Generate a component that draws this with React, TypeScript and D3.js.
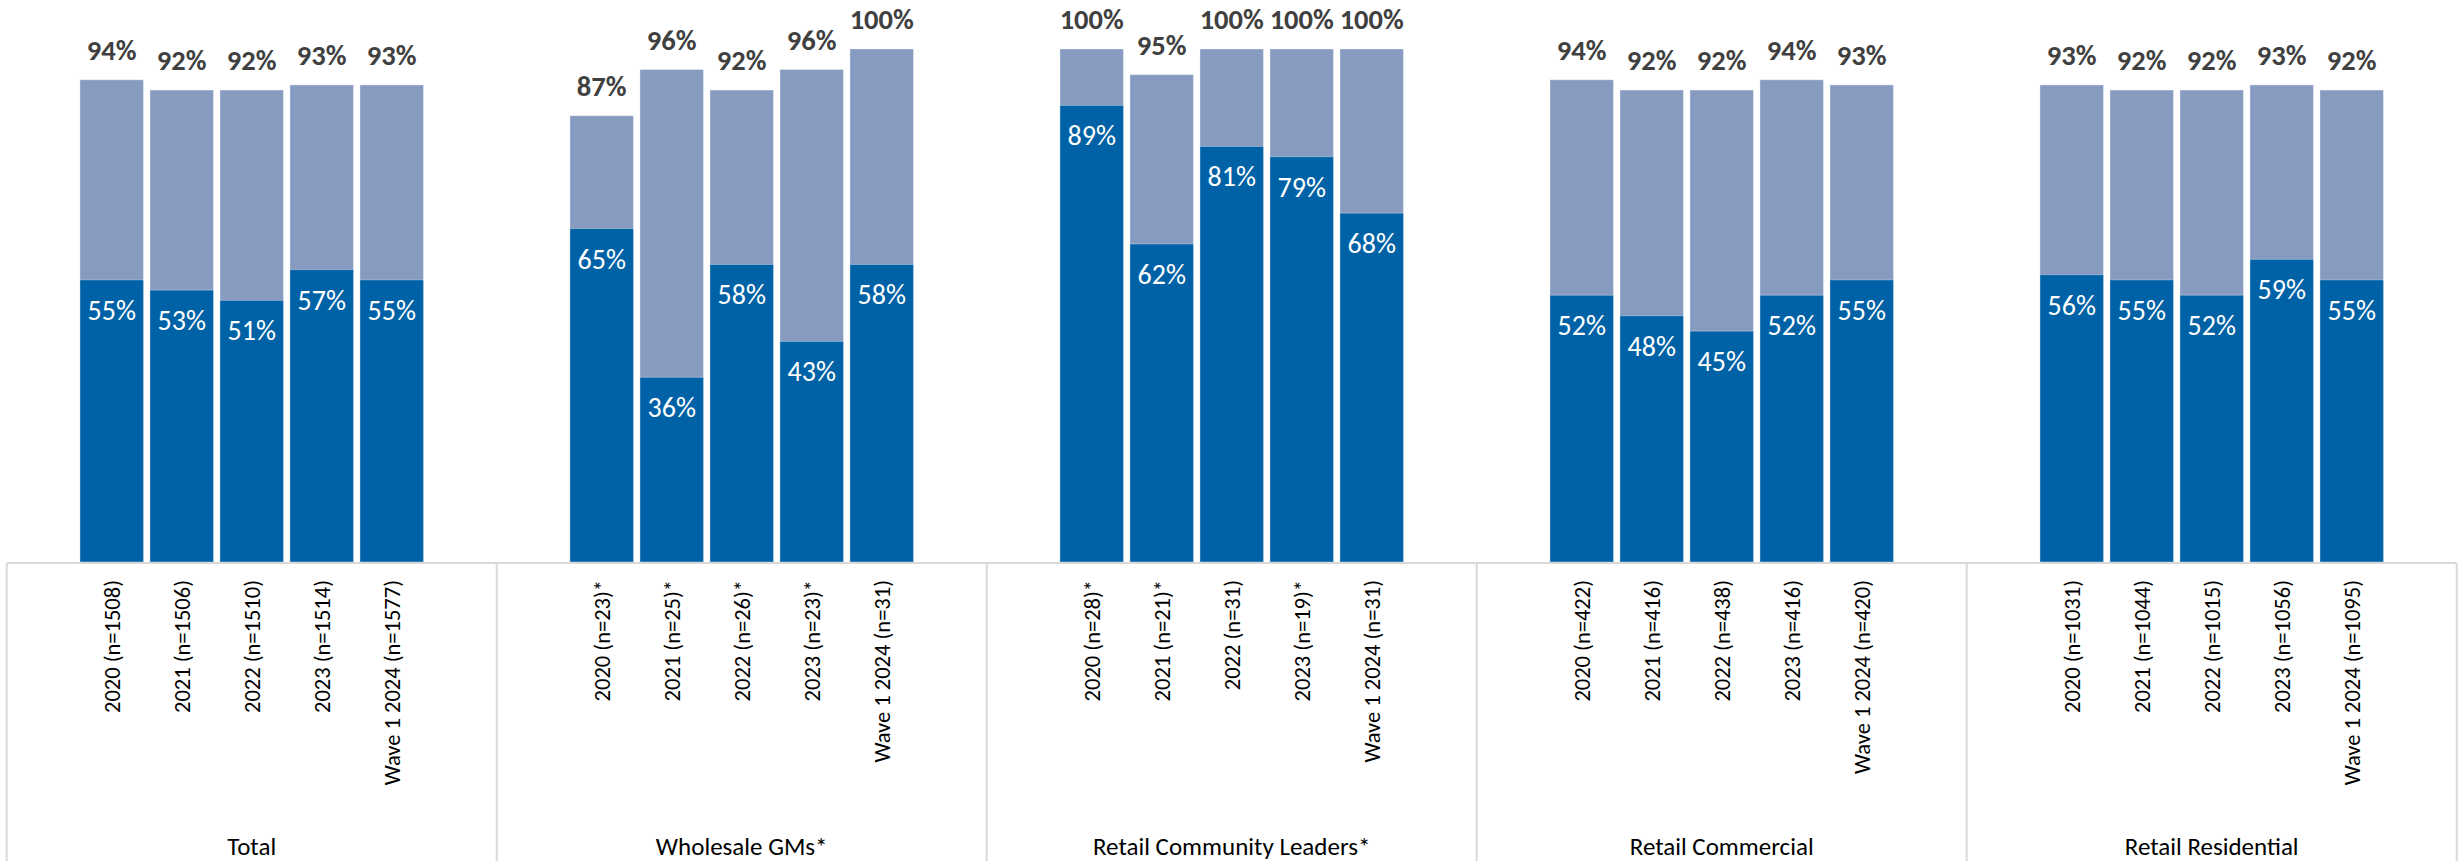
import React, { useEffect } from "react";
import * as d3 from "d3";

const groups = ["Total", "Wholesale GMs*", "Retail Community Leaders*", "Retail Commercial", "Retail Residential"];

const tickLabels: string[][] = [
  ["2020 (n=1508)", "2021 (n=1506)", "2022 (n=1510)", "2023 (n=1514)", "Wave 1 2024 (n=1577)"],
  ["2020 (n=23)*", "2021 (n=25)*", "2022 (n=26)*", "2023 (n=23)*", "Wave 1 2024 (n=31)"],
  ["2020 (n=28)*", "2021 (n=21)*", "2022 (n=31)", "2023 (n=19)*", "Wave 1 2024 (n=31)"],
  ["2020 (n=422)", "2021 (n=416)", "2022 (n=438)", "2023 (n=416)", "Wave 1 2024 (n=420)"],
  ["2020 (n=1031)", "2021 (n=1044)", "2022 (n=1015)", "2023 (n=1056)", "Wave 1 2024 (n=1095)"],
];

// Top-2 box total (light bar height)
const totalValues: number[][] = [
  [94, 92, 92, 93, 93],
  [87, 96, 92, 96, 100],
  [100, 95, 100, 100, 100],
  [94, 92, 92, 94, 93],
  [93, 92, 92, 93, 92],
];

// Top box (dark segment)
const topValues: number[][] = [
  [55, 53, 51, 57, 55],
  [65, 36, 58, 43, 58],
  [89, 62, 81, 79, 68],
  [52, 48, 45, 52, 55],
  [56, 55, 52, 59, 55],
];

const W = 2460;
const H = 861;
const FONT = "Carlito, Calibri, Lato, sans-serif";
const DARK = "#0062A6";
const LIGHT = "#879BC0";
const AXIS = "#D9D9D9";

export default function App() {
  useEffect(() => {
    document.body.style.margin = "0";
  }, []);

  const xOuter = d3.scaleBand<string>().domain(groups).range([6.7, 2456.7]).padding(0);
  const slots = ["0", "1", "2", "3", "4"];
  const pi = 0.093;
  const po = (7 - 5 + pi) / 2;
  const xInner = d3
    .scaleBand<string>()
    .domain(slots)
    .range([0, xOuter.bandwidth()])
    .paddingInner(pi)
    .paddingOuter(po);
  const y = d3.scaleLinear().domain([0, 100]).range([562, 49]);
  const axisY = 563;

  return (
    <svg width={W} height={H} style={{ display: "block", background: "#fff" }} fontFamily={FONT}>
      {groups.map((g, gi) => {
        const gx = xOuter(g)!;
        return (
          <g key={g}>
            {slots.map((s, i) => {
              const bx = gx + xInner(s)!;
              const bw = xInner.bandwidth();
              const cx = bx + bw / 2;
              const tv = totalValues[gi][i];
              const dv = topValues[gi][i];
              return (
                <g key={s}>
                  <rect x={bx} y={y(tv)} width={bw} height={y(0) - y(tv)} fill={LIGHT} stroke="#ffffff" strokeOpacity={0.35} strokeWidth={1} />
                  <rect x={bx} y={y(dv)} width={bw} height={y(0) - y(dv)} fill={DARK} stroke="#ffffff" strokeOpacity={0.35} strokeWidth={1} />
                  <text x={cx} y={y(tv) - 20} textAnchor="middle" fontSize={28.5} fontWeight="bold" fill="#404040">
                    {tv}%
                  </text>
                  <text x={cx} y={y(dv) + 40} textAnchor="middle" fontSize={28} fill="#ffffff">
                    {dv}%
                  </text>
                  <text
                    transform={`translate(${cx},580) rotate(-90)`}
                    textAnchor="end"
                    dy="0.36em"
                    fontSize={22.5}
                    fill="#000000"
                  >
                    {tickLabels[gi][i]}
                  </text>
                </g>
              );
            })}
            <text x={gx + xOuter.bandwidth() / 2} y={855} textAnchor="middle" fontSize={25} fill="#000000">
              {g}
            </text>
          </g>
        );
      })}
      <line x1={xOuter.range()[0]} x2={xOuter.range()[1]} y1={axisY} y2={axisY} stroke={AXIS} strokeWidth={2} />
      {[...groups.map((g) => xOuter(g)!), xOuter.range()[1]].map((x, i) => (
        <line key={i} x1={x} x2={x} y1={axisY} y2={H} stroke={AXIS} strokeWidth={2} />
      ))}
    </svg>
  );
}
